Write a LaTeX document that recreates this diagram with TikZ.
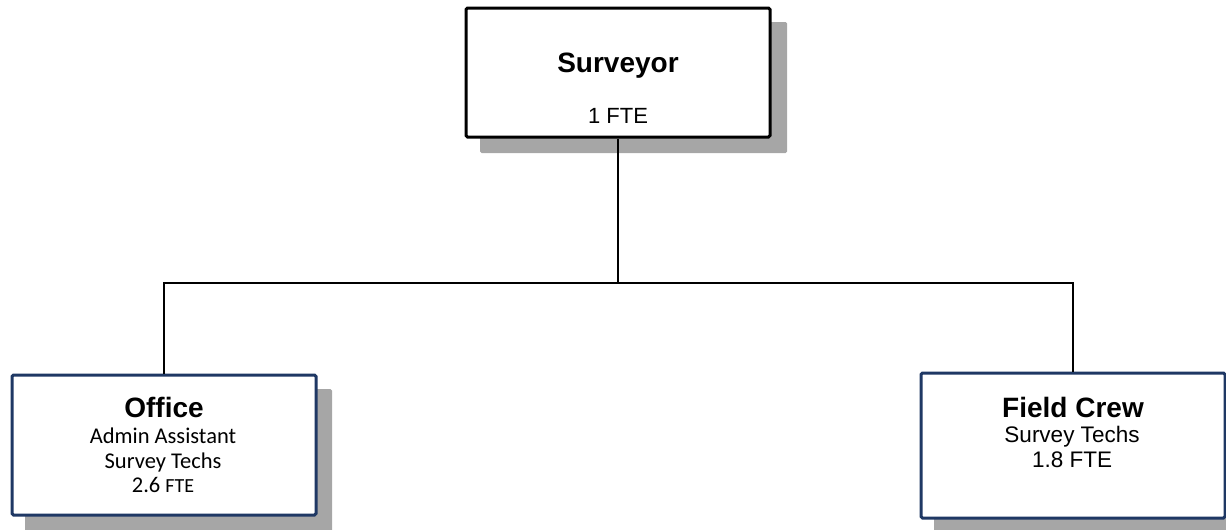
\documentclass[tikz,border=0pt]{standalone}
\usepackage{fontspec}
\setmainfont{Liberation Sans}
\newfontfamily\calfont{Carlito}
\usetikzlibrary{calc}
\definecolor{navy}{HTML}{1F3864}
\definecolor{shadowgray}{HTML}{A6A6A6}
\tikzset{
  box/.style={draw, line width=3pt, fill=white, rounded corners=1.5pt, inner sep=0pt},
  topbox/.style={box, draw=black, minimum width=304pt, minimum height=129pt},
  lowbox/.style={box, draw=navy, minimum width=304pt},
  shadow/.style={fill=shadowgray, rounded corners=1.5pt},
  link/.style={draw=black, line width=1.4pt},
  head/.style={anchor=base, inner sep=0pt, font=\fontsize{28}{30}\selectfont\bfseries},
  line/.style={anchor=base, inner sep=0pt, font=\fontsize{22.5}{25}\selectfont},
  cline/.style={anchor=base, inner sep=0pt, font=\calfont\fontsize{22.5}{25}\selectfont},
}
\begin{document}
\begin{tikzpicture}[x=1pt,y=-1pt]
\useasboundingbox (0,0) rectangle (1226,530);
% shadows
\fill[shadow] (480,22) rectangle (787,153);
\fill[shadow] (25,389) rectangle (332,540);
\fill[shadow] (934,387) rectangle (1240,540);
% boxes
\node[topbox] (surveyor) at (618,72.5) {};
\node[lowbox, minimum height=140pt] (office) at (164,445) {};
\node[lowbox, minimum height=145pt] (field) at (1073,445.5) {};
% connectors
\coordinate (bus) at (618,283);
\draw[link] (surveyor.south) -- (bus);
\draw[link] (bus) -| (office.north);
\draw[link] (bus) -| (field.north);
% texts
\node[head] (t1) at (618,72) {Surveyor};
\node[line, font=\fontsize{22}{25}\selectfont] (t2) at (618,123) {1 FTE};
\node[head] (o1) at (164,417) {Office};
\node[cline] (o2) at (163,443) {Admin Assistant};
\node[cline] (o3) at (163,468) {Survey Techs};
\node[cline] (o4) at (163,492) {2.6 {\fontsize{20}{22}\selectfont FTE}};
\node[head] (f1) at (1073,417) {Field Crew};
\node[line] (f2) at (1072,442) {Survey Techs};
\node[line] (f3) at (1072,467) {1.8 FTE};
\end{tikzpicture}
\end{document}
